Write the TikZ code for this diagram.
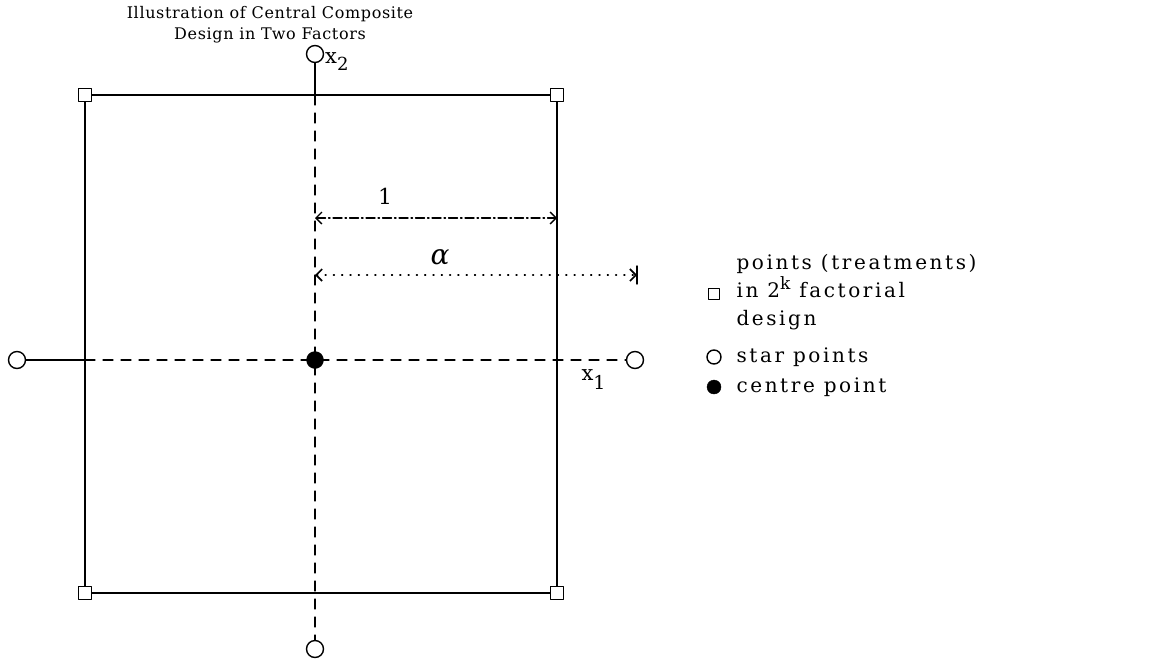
\documentclass[tikz,border=0pt]{standalone}
\usepackage{fontspec}
\setmainfont{DejaVu Serif}[LetterSpace=4]
\newfontfamily\legendfont{DejaVu Serif}[LetterSpace=13]
\usetikzlibrary{arrows.meta}
\begin{document}
\begin{tikzpicture}[x=1pt, y=-1pt, line cap=round, line join=round,
    font=\fontsize{16}{21}\selectfont,
    factpt/.style={draw, line width=1.4pt, fill=white, minimum size=13pt, inner sep=0pt},
    starpt/.style={draw, line width=1.4pt, fill=white, circle, minimum size=17pt, inner sep=0pt},
    centrept/.style={draw, fill=black, circle, minimum size=17pt, inner sep=0pt},
    edge/.style={line width=1.4pt},
    axisline/.style={line width=1.3pt, dash pattern=on 10pt off 8pt},
    barbs/.style={line width=1.3pt, {Straight Barb[length=6pt,width=12pt]}-{Straight Barb[length=6pt,width=12pt]}},
    legtext/.style={anchor=west, align=left, font=\legendfont\fontsize{20}{28}\selectfont}]
  \useasboundingbox (0,0) rectangle (1151,659);
  % title
  \node[align=center, inner sep=0pt] (title) at (270,25) {Illustration of Central Composite\\Design in Two Factors};
  % corners of the square and axis crossings
  \coordinate (f1) at (85,95);
  \coordinate (f2) at (557,95);
  \coordinate (f3) at (85,593);
  \coordinate (f4) at (557,593);
  \coordinate (aL) at (85,360);
  \coordinate (aT) at (315,95);
  \coordinate (sL) at (17,360);
  \coordinate (sR) at (635,360);
  \coordinate (sT) at (315,54);
  \coordinate (sB) at (315,649);
  \draw[edge] (f1) -- (f2) -- (f4) -- (f3) -- cycle;
  \draw[edge] (sL) -- (aL);
  \draw[axisline] (aL) -- (sR);
  \draw[edge] (sT) -- (aT);
  \draw[axisline] (aT) -- (sB);
  % design points
  \foreach \p in {f1,f2,f3,f4}{\node[factpt] at (\p) {};}
  \foreach \p in {sL,sR,sT,sB}{\node[starpt] at (\p) {};}
  \node[centrept] (c) at (315,360) {};
  % axis labels
  \node[anchor=west, inner sep=1pt] (x2) at (324,62) {\fontsize{21}{21}\selectfont x\raisebox{-7pt}{\fontsize{18}{18}\selectfont 2}};
  \node[anchor=west] (x1) at (578,380) {\fontsize{21}{21}\selectfont x\raisebox{-9pt}{\fontsize{19}{19}\selectfont 1}};
  % distances 1 and alpha
  \coordinate (d1a) at (315,218);
  \coordinate (d1b) at (557,218);
  \coordinate (d2a) at (315,275);
  \coordinate (d2b) at (637,275);
  \draw[barbs, dash pattern=on 9pt off 3pt on 1.5pt off 3pt] (d1a) -- (d1b);
  \draw[barbs, dash pattern=on 0.8pt off 7.5pt, line width=1.6pt] (d2a) -- (d2b);
  \draw[edge] ([yshift=-9pt]d2b) -- ([yshift=9pt]d2b);
  \node (one) at (385,196) {\fontsize{22}{22}\selectfont 1};
  \node (alpha) at (440,257) {\fontsize{28}{28}\selectfont\itshape α};
  % legend
  \node[legtext] (legfact) at (733,292) {points (treatments)\\in 2\raisebox{8pt}{\fontsize{17}{17}\selectfont k} factorial\\design};
  \node[factpt, minimum size=11pt] (kfact) at (714,294) {};
  \node[legtext] (legstar) at (733,357) {star points};
  \node[starpt, minimum size=14pt] (kstar) at (714,357) {};
  \node[legtext] (legcentre) at (733,387) {centre point};
  \node[centrept, minimum size=14pt] (kcentre) at (714,387) {};
\end{tikzpicture}
\end{document}
